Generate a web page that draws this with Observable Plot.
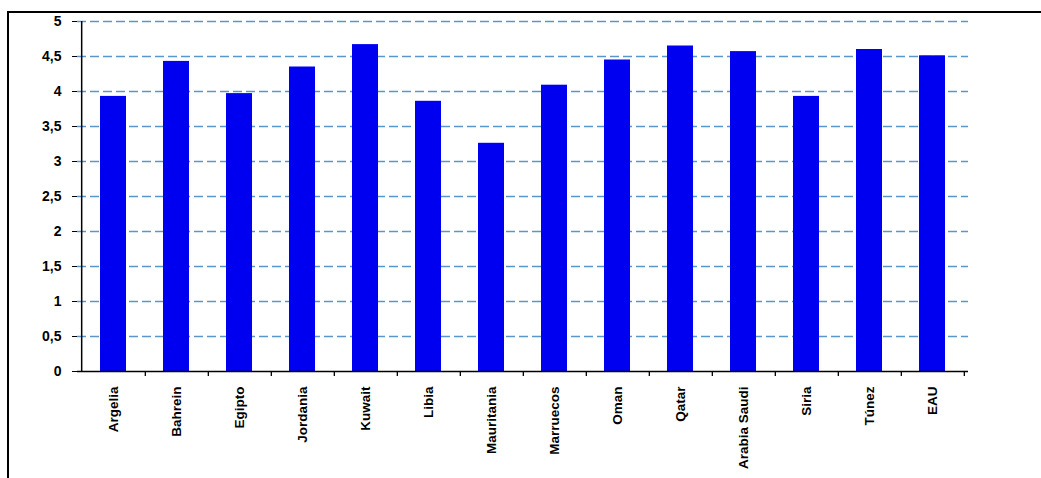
<!DOCTYPE html>
<html>
<head>
<meta charset="utf-8">
<script src="https://cdn.jsdelivr.net/npm/d3@7"></script>
<script src="https://cdn.jsdelivr.net/npm/@observablehq/plot@0.6"></script>
<style>
  html, body { margin: 0; padding: 0; background: #fff; }
  #wrap { position: relative; width: 1041px; height: 478px; overflow: hidden; }
  #frame { position: absolute; left: 7px; top: 11px; width: 1200px; height: 600px;
           border-top: 2px solid #000; border-left: 2px solid #000; pointer-events: none; }
  #chart { position: absolute; left: 0; top: 0; }
</style>
</head>
<body>
<div id="wrap"><div id="chart"></div><div id="frame"></div></div>
<script>
const countries = ["Argelia","Bahrein","Egipto","Jordania","Kuwait","Libia","Mauritania","Marruecos","Oman","Qatar","Arabia Saudi","Siria","Túnez","EAU"];
const values = [3.93, 4.43, 3.97, 4.35, 4.67, 3.86, 3.26, 4.09, 4.45, 4.65, 4.57, 3.93, 4.60, 4.51];
const yTicks = [0, 0.5, 1, 1.5, 2, 2.5, 3, 3.5, 4, 4.5, 5];
const yTickLabels = ["0", "0,5", "1", "1,5", "2", "2,5", "3", "3,5", "4", "4,5", "5"];

const data = countries.map((c, i) => ({country: c, value: values[i]}));

const W = 1041, H = 478, ML = 77, MR = 73, MT = 21, MB = 107;
const step = (W - ML - MR) / countries.length;

const plot = Plot.plot({
  width: W,
  height: H,
  marginLeft: ML,
  marginRight: MR,
  marginTop: MT,
  marginBottom: MB,
  style: {fontFamily: "'Liberation Sans', Arial, sans-serif", color: "#000", background: "#fff"},
  x: {type: "band", domain: countries, paddingInner: 0.59, paddingOuter: 0.295, axis: null},
  y: {domain: [0, 5], axis: null},
  marks: [
    Plot.ruleY(yTicks.filter(d => d > 0), {stroke: "#5896cc", strokeWidth: 1.4, strokeDasharray: "9,4"}),
    Plot.barY(data, {x: "country", y: "value", fill: "#0000f0"}),
    Plot.ruleY([0], {stroke: "#000", strokeWidth: 1.5}),
    Plot.ruleX([countries[0]], {x: d => d, dx: -step / 2, stroke: "#000", strokeWidth: 1.5}),
    Plot.ruleX(countries, {x: d => d, dx: step / 2, y1: 0, y2: 0, insetBottom: -5, stroke: "#000", strokeWidth: 1.3}),
    Plot.axisY(yTicks, {
      tickSize: 5, tickPadding: 11, stroke: "#000",
      tickFormat: d => yTickLabels[yTicks.indexOf(d)],
      fontSize: 14, fontWeight: "bold", letterSpacing: 1, label: null
    }),
    Plot.axisX(countries, {
      tickSize: 0, tickPadding: 15, tickRotate: -90,
      fontSize: 13.5, fontWeight: "bold", label: null
    })
  ]
});
document.getElementById("chart").appendChild(plot);
</script>
</body>
</html>
